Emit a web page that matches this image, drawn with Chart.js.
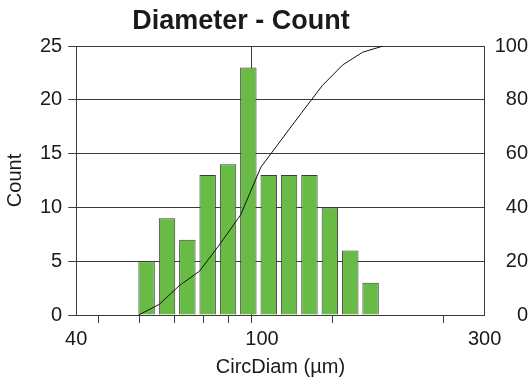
<!DOCTYPE html>
<html>
<head>
<meta charset="utf-8">
<script src="https://cdn.jsdelivr.net/npm/chart.js@4/dist/chart.umd.min.js"></script>
<style>
  html, body { margin: 0; padding: 0; background: #fff; }
  #wrap { position: relative; width: 531px; height: 379px; }
</style>
</head>
<body>
<div id="wrap"><canvas id="myChart" width="531" height="379"></canvas></div>
<script>
// histogram bins (µm), bar centres on the log axis
const binCenters = [56.6, 62.6, 69.2, 76.5, 84.6, 93.5, 103.4, 114.3, 126.4, 139.8, 154.6, 170.9];
const counts = [5, 9, 7, 13, 14, 23, 13, 13, 13, 10, 6, 3];

// cumulative curve (% of total) at the bin edges
const binEdges = [54.4, 60.2, 66.5, 73.5, 81.3, 90.0, 99.5, 110, 121.6, 134.7, 149, 164.4, 181.8];
const cumPercent = [0, 3.9, 10.9, 16.3, 26.4, 37.2, 55.0, 65.1, 75.2, 85.3, 93.0, 97.7, 100];

const xTicks = [40, 50, 60, 70, 80, 90, 100, 200, 300];
const xLabels = [40, 100, 300];

const gridColor = '#3a3a3a';
const textColor = '#1a1a1a';
const fontFamily = '"Liberation Sans", Arial, sans-serif';

// draws the chart title (sits left of centre in the original)
const titlePlugin = {
    id: 'titleText',
    afterDraw(chart) {
        const ctx = chart.ctx;
        ctx.save();
        ctx.font = 'bold 27px ' + fontFamily;
        ctx.fillStyle = textColor;
        ctx.textAlign = 'center';
        ctx.textBaseline = 'middle';
        ctx.fillText('Diameter - Count', 241, 22);
        ctx.restore();
    }
};

const data = {
    datasets: [{
        type: 'bar',
        label: 'Count',
        data: binCenters.map((x, i) => ({ x: x, y: counts[i] })),
        backgroundColor: '#68bc45',
        borderColor: '#3c3c3c',
        borderWidth: 1,
        barPercentage: 0.81,
        categoryPercentage: 1,
        yAxisID: 'y',
        order: 2
    }, {
        type: 'line',
        label: 'Cumulative',
        data: binEdges.map((x, i) => ({ x: x, y: cumPercent[i] })),
        borderColor: '#111',
        borderWidth: 1,
        pointRadius: 0,
        tension: 0,
        fill: false,
        yAxisID: 'y2',
        order: 1
    }]
};

const config = {
    type: 'bar',
    data: data,
    options: {
        responsive: false,
        animation: false,
        layout: { padding: { top: 46, right: 3, bottom: 0, left: 0 } },
        plugins: {
            legend: { display: false },
            tooltip: { enabled: false }
        },
        scales: {
            x: {
                type: 'logarithmic',
                min: 40,
                max: 300,
                offset: false,
                afterBuildTicks: (scale) => {
                    scale.ticks = xTicks.map(v => ({ value: v }));
                },
                ticks: {
                    autoSkip: false,
                    maxRotation: 0,
                    padding: 6,
                    color: textColor,
                    font: { family: fontFamily, size: 20, lineHeight: 1.0 },
                    callback: (value) => xLabels.includes(value) ? String(value) : ''
                },
                grid: {
                    color: (ctx) => (ctx.tick && ctx.tick.value === 100) ? gridColor : 'rgba(0,0,0,0)',
                    tickColor: gridColor,
                    tickLength: 8,
                    lineWidth: 1
                },
                border: { color: gridColor },
                title: {
                    display: true,
                    text: 'CircDiam (µm)',
                    color: textColor,
                    font: { family: fontFamily, size: 20 },
                    padding: { top: 0, bottom: 0 }
                }
            },
            y: {
                position: 'left',
                min: 0,
                max: 25,
                ticks: {
                    stepSize: 5,
                    padding: 6,
                    color: textColor,
                    font: { family: fontFamily, size: 20 }
                },
                grid: {
                    color: gridColor,
                    tickLength: 8,
                    lineWidth: 1
                },
                border: { color: gridColor },
                title: {
                    display: true,
                    text: 'Count',
                    color: textColor,
                    font: { family: fontFamily, size: 20 },
                    padding: { top: 3, bottom: 7 }
                }
            },
            y2: {
                position: 'right',
                min: 0,
                max: 100,
                ticks: {
                    stepSize: 20,
                    padding: 5,
                    crossAlign: 'far',
                    color: textColor,
                    font: { family: fontFamily, size: 20 }
                },
                grid: { drawOnChartArea: false, drawTicks: false },
                border: { color: gridColor }
            }
        }
    },
    plugins: [titlePlugin]
};

const myChart = new Chart(document.getElementById('myChart'), config);
</script>
</body>
</html>
